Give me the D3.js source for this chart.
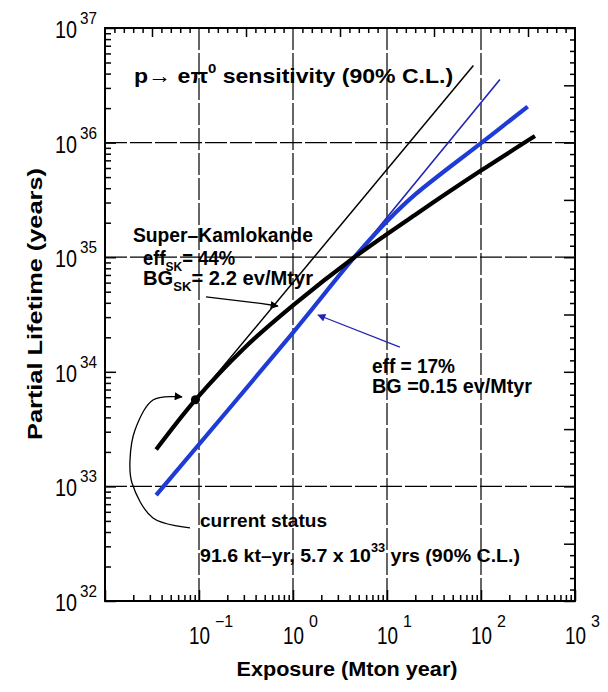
<!DOCTYPE html>
<html>
<head>
<meta charset="utf-8">
<script src="https://cdn.jsdelivr.net/npm/d3@7"></script>
<style>
  html, body { margin: 0; padding: 0; background: #fff; }
  svg { display: block; font-family: "Liberation Sans", Arial, Helvetica, sans-serif; }
</style>
</head>
<body>
<div id="chart"></div>
<script>
// #### data (exposure in Mton year, lifetime in years)
const xDecades = [1e-1, 1e0, 1e1, 1e2, 1e3];
const xExponents = ['\u22121', '0', '1', '2', '3'];
const yDecades = [1e32, 1e33, 1e34, 1e35, 1e36, 1e37];
const yExponents = ['32', '33', '34', '35', '36', '37'];
const xGridValues = [1e-1, 1e0, 1e1, 1e2];
const yGridValues = [1e33, 1e35, 1e36];

// Super-K : eff 44%, BG 2.2 ev/Mtyr
const skExposure = [0.035, 0.0916, 0.3, 1, 4.5, 20, 100, 375];
const skLifetime = [2.1e33, 5.7e33, 1.6e34, 3.8e34, 1.0e35, 2.35e35, 5.7e35, 1.14e36];
// Super-K, background free
const skNoBgExposure = [0.0916, 83];
const skNoBgLifetime = [5.7e33, 4.7e36];
// eff 17%, BG 0.15 ev/Mtyr
const newExposure = [0.035, 1, 4.5, 10, 20, 100, 314];
const newLifetime = [8.4e32, 2.2e34, 1.0e35, 2.06e35, 3.53e35, 9.9e35, 2.06e36];
// eff 17%, background free
const newNoBgExposure = [1, 4.5, 159];
const newNoBgLifetime = [2.2e34, 1.0e35, 3.55e36];
// current status : 91.6 kt-yr, 5.7e33 yrs
const currentExposure = [0.0916];
const currentLifetime = [5.7e33];

const width = 608;
const height = 692;
const plot = { left: 105, right: 575, top: 28, bottom: 601 };
const blue = '#1f3bd6';
const darkBlue = '#2323b4';

const svg = d3.select('#chart')
  .append('svg')
  .attr('width', width)
  .attr('height', height);

const x = d3.scaleLog().domain([1e-2, 1e3]).range([plot.left, plot.right]);
const y = d3.scaleLog().domain([1e32, 1e37]).range([plot.bottom, plot.top]);

const zip = (xs, ys) => xs.map((v, i) => [v, ys[i]]);

// Standard log minor ticks (2..9) for bottom / left,
// evenly spaced tenth-of-decade ticks for top / right (like the original frame).
const minorLog = (lo, hi) => {
  const out = [];
  for (let e = lo; e < hi; e++) for (let k = 2; k < 10; k++) out.push(k * Math.pow(10, e));
  return out;
};
const tenthLog = (lo, hi, keep) => {
  const out = [];
  for (let e = lo; e < hi; e++) for (let k = 1; k < 10; k++) if (keep(k)) out.push(Math.pow(10, e + k / 10));
  return out;
};
const decades = (lo, hi) => d3.range(lo, hi + 1).map(e => Math.pow(10, e));

const tickAxis = (axis, values, size, transform) => {
  svg.append('g')
    .attr('class', 'axis')
    .attr('transform', transform)
    .call(axis.tickValues(values).tickSize(-size).tickFormat(''))
    .call(g => g.select('.domain').remove())
    .call(g => g.selectAll('.tick line').attr('stroke', '#000').attr('stroke-width', 1.5));
};

// bottom
tickAxis(d3.axisBottom(x), minorLog(-2, 3), 6, `translate(0,${plot.bottom})`);
tickAxis(d3.axisBottom(x), decades(-2, 3), 11, `translate(0,${plot.bottom})`);
// left
tickAxis(d3.axisLeft(y), minorLog(32, 37), 6, `translate(${plot.left},0)`);
tickAxis(d3.axisLeft(y), decades(32, 37), 11, `translate(${plot.left},0)`);
// top
tickAxis(d3.axisTop(x), tenthLog(-2, 3, k => k !== 5), 5, `translate(0,${plot.top})`);
tickAxis(d3.axisTop(x), tenthLog(-2, 3, k => k === 5), 9, `translate(0,${plot.top})`);
// right
tickAxis(d3.axisRight(y), tenthLog(32, 37, k => k !== 5), 5, `translate(${plot.right},0)`);
tickAxis(d3.axisRight(y), tenthLog(32, 37, k => k === 5).concat(decades(32, 37)), 11, `translate(${plot.right},0)`);

// dashed grid
svg.append('g')
  .selectAll('line')
  .data(xGridValues)
  .enter().append('line')
  .attr('x1', d => x(d)).attr('x2', d => x(d))
  .attr('y1', plot.top).attr('y2', plot.bottom)
  .attr('stroke', '#000').attr('stroke-width', 1.2)
  .attr('stroke-dasharray', '22,3');
svg.append('g')
  .selectAll('line')
  .data(yGridValues)
  .enter().append('line')
  .attr('x1', plot.left).attr('x2', plot.right)
  .attr('y1', d => y(d)).attr('y2', d => y(d))
  .attr('stroke', '#000').attr('stroke-width', 1.2)
  .attr('stroke-dasharray', '22,3');

// frame
svg.append('rect')
  .attr('x', plot.left).attr('y', plot.top)
  .attr('width', plot.right - plot.left).attr('height', plot.bottom - plot.top)
  .attr('fill', 'none').attr('stroke', '#000').attr('stroke-width', 2);

// tick labels "10^n"
svg.append('g').selectAll('text')
  .data(xDecades)
  .enter().append('text')
  .attr('x', d => x(d) + 0.5).attr('y', plot.bottom + 43)
  .attr('text-anchor', 'middle')
  .attr('font-size', 24)
  .attr('textLength', 21).attr('lengthAdjust', 'spacingAndGlyphs')
  .text('10');
svg.append('g').selectAll('text')
  .data(xDecades)
  .enter().append('text')
  .attr('x', d => x(d) + 16).attr('y', plot.bottom + 26)
  .attr('font-size', 16)
  .text((d, i) => xExponents[i]);

svg.append('g').selectAll('text')
  .data(yDecades)
  .enter().append('text')
  .attr('x', plot.left - 28).attr('y', d => y(d) + 10)
  .attr('text-anchor', 'end')
  .attr('font-size', 24)
  .attr('textLength', 22).attr('lengthAdjust', 'spacingAndGlyphs')
  .text('10');
svg.append('g').selectAll('text')
  .data(yDecades)
  .enter().append('text')
  .attr('x', plot.left - 25).attr('y', d => y(d) - 4)
  .attr('font-size', 16)
  .attr('textLength', 17).attr('lengthAdjust', 'spacingAndGlyphs')
  .text((d, i) => yExponents[i]);

// axis titles
svg.append('text')
  .attr('x', 347).attr('y', 676)
  .attr('text-anchor', 'middle')
  .attr('font-size', 20).attr('font-weight', 'bold')
  .attr('textLength', 221).attr('lengthAdjust', 'spacingAndGlyphs')
  .text('Exposure (Mton year)');
svg.append('text')
  .attr('transform', 'translate(42,304) rotate(-90)')
  .attr('text-anchor', 'middle')
  .attr('font-size', 21).attr('font-weight', 'bold')
  .attr('textLength', 272).attr('lengthAdjust', 'spacingAndGlyphs')
  .text('Partial Lifetime (years)');

// #### curves
const line = d3.line()
  .x(d => x(d[0]))
  .y(d => y(d[1]))
  .curve(d3.curveCatmullRom.alpha(0.5));

const curves = [
  { pts: zip(skNoBgExposure, skNoBgLifetime), color: '#000', w: 1.5 },
  { pts: zip(newNoBgExposure, newNoBgLifetime), color: darkBlue, w: 1.6 },
  { pts: zip(newExposure, newLifetime), color: blue, w: 4.2 },
  { pts: zip(skExposure, skLifetime), color: '#000', w: 4.2 },
];
svg.append('g').selectAll('path')
  .data(curves)
  .enter().append('path')
  .attr('d', d => line(d.pts))
  .attr('fill', 'none')
  .attr('stroke', d => d.color)
  .attr('stroke-width', d => d.w);

svg.append('g').selectAll('circle')
  .data(zip(currentExposure, currentLifetime))
  .enter().append('circle')
  .attr('cx', d => x(d[0])).attr('cy', d => y(d[1]))
  .attr('r', 4.5).attr('fill', '#000');

// #### annotations (placed in data coordinates)
const defs = svg.append('defs');
const addMarker = (id, color) => defs.append('marker')
  .attr('id', id)
  .attr('viewBox', '0 0 10 10')
  .attr('refX', 9).attr('refY', 5)
  .attr('markerWidth', 10).attr('markerHeight', 8)
  .attr('markerUnits', 'userSpaceOnUse')
  .attr('orient', 'auto')
  .append('path')
  .attr('d', 'M0,0 L10,5 L0,10 z')
  .attr('fill', color);
addMarker('arrow-black', '#000');
addMarker('arrow-blue', darkBlue);

const arrows = [
  { pts: [[0.1186, 4.5e34], [0.45, 3.95e34], [0.69, 3.75e34]], color: '#000', marker: 'arrow-black', curve: d3.curveLinear },
  { pts: [[13.7, 1.64e34], [1.845, 3.13e34]], color: darkBlue, marker: 'arrow-blue', curve: d3.curveLinear },
  {
    pts: [[0.0802, 4.34e32], [0.0324, 5.3e32], [0.01937, 1.07e33], [0.01845, 1.7e33],
          [0.02085, 3.1e33], [0.0324, 5.67e33], [0.0659, 6.03e33]],
    color: '#000', marker: 'arrow-black', curve: d3.curveCatmullRom
  },
];
svg.append('g').selectAll('path')
  .data(arrows)
  .enter().append('path')
  .attr('d', d => d3.line().x(p => x(p[0])).y(p => y(p[1])).curve(d.curve)(d.pts))
  .attr('fill', 'none')
  .attr('stroke', d => d.color)
  .attr('stroke-width', 1.3)
  .attr('marker-end', d => `url(#${d.marker})`);

// text parts: sup / sub shift the baseline
const notes = [
  { at: [0.0204, 3.3e36], size: 21, weight: 'bold', len: 319,
    parts: [['p\u2192 e\u03c0'], ['0', 'sup'], [' sensitivity (90% C.L.)']] },
  { at: [0.0198, 1.36e35], size: 20, weight: 'bold', len: 180, parts: [['Super\u2013Kamlokande']] },
  { at: [0.0254, 8.55e34], size: 20, weight: 'bold', len: 92, parts: [['eff'], ['SK', 'sub'], ['= 44%']] },
  { at: [0.0254, 5.72e34], size: 20, weight: 'bold', len: 170, parts: [['BG'], ['SK', 'sub'], ['= 2.2 ev/Mtyr']] },
  { at: [6.92, 9.77e33], size: 20, weight: 'bold', len: 83, parts: [['eff = 17%']] },
  { at: [6.92, 6.53e33], size: 20, weight: 'bold', len: 160, parts: [['BG =0.15 ev/Mtyr']] },
  { at: [0.1025, 4.43e32], size: 19, weight: 'bold', len: 127, parts: [['current status']] },
  { at: [0.1025, 2.19e32], size: 19, weight: 'bold', len: 320,
    parts: [['91.6 kt\u2013yr, 5.7 x 10'], ['33', 'sup'], [' yrs (90% C.L.)']] },
];

notes.forEach(n => {
  const t = svg.append('text')
    .attr('x', x(n.at[0])).attr('y', y(n.at[1]))
    .attr('font-size', n.size).attr('font-weight', n.weight)
    .attr('textLength', n.len).attr('lengthAdjust', 'spacingAndGlyphs');
  let shift = 0;
  n.parts.forEach(([str, kind]) => {
    const target = kind === 'sup' ? -n.size * 0.5 : kind === 'sub' ? n.size * 0.28 : 0;
    t.append('tspan')
      .attr('dy', target - shift)
      .attr('font-size', kind ? n.size * 0.65 : n.size)
      .text(str);
    shift = target;
  });
});
</script>
</body>
</html>
